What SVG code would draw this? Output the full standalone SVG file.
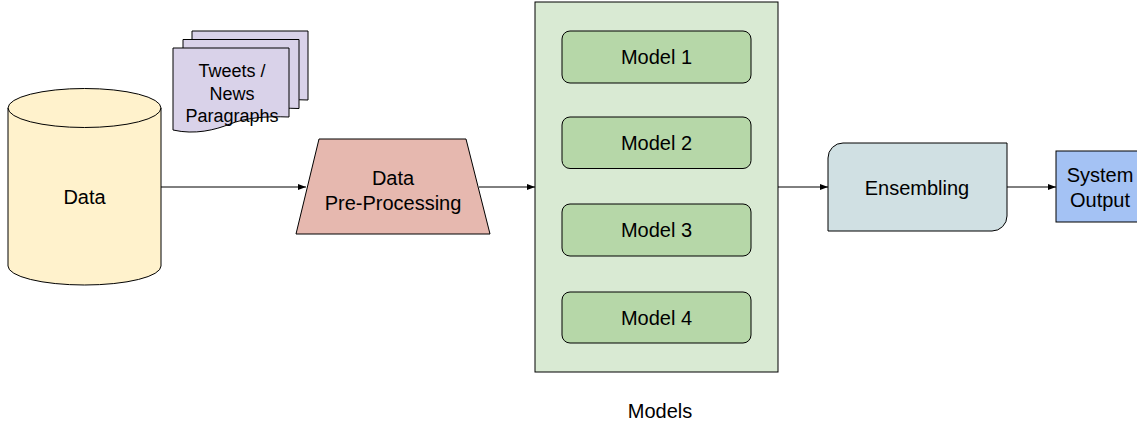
<svg xmlns="http://www.w3.org/2000/svg" width="1137" height="425" viewBox="0 0 1137 425">
<style>
  .t{font-family:"Liberation Sans",Arial,sans-serif;font-size:20px;fill:#000;text-anchor:middle}
  .s{font-family:"Liberation Sans",Arial,sans-serif;font-size:18px;fill:#000;text-anchor:middle}
  .o{stroke:#000;stroke-width:1}
  .c{stroke:#000;stroke-width:1;fill:none}
</style>
<defs>
  <marker id="ah" viewBox="0 0 8 6" refX="8" refY="3" markerWidth="8" markerHeight="6" markerUnits="userSpaceOnUse" orient="auto">
    <path d="M0,0 L8,3 L0,6 Z" fill="#000"/>
  </marker>
  <path id="docshape" d="M0,0 H116 V69 C92,68 72,70 57,76 C42,82 22,87 0,82 Z"/>
</defs>
<rect width="1137" height="425" fill="#fff"/>

<g id="data">
  <path class="o" fill="#fff2cc" d="M8,108 A76.5,19.5 0 0 1 161,108 V266 A76.5,19 0 0 1 8,266 Z"/>
  <path class="o" fill="none" d="M8,108 A76.5,19.5 0 0 0 161,108"/>
  <text class="t" x="84.5" y="204">Data</text>
</g>

<g id="tweets">
  <use href="#docshape" x="192" y="31" class="o" fill="#d9d2e9"/>
  <use href="#docshape" x="183" y="39.5" class="o" fill="#d9d2e9"/>
  <use href="#docshape" x="173" y="48" class="o" fill="#d9d2e9"/>
  <text class="s" x="232" y="77">Tweets /</text>
  <text class="s" x="232" y="100">News</text>
  <text class="s" x="232" y="122">Paragraphs</text>
</g>

<g id="preprocessing">
  <path class="o" fill="#e6b8af" d="M319,139 H466 L490,234 H296 Z"/>
  <text class="t" x="393" y="185">Data</text>
  <text class="t" x="393" y="210">Pre-Processing</text>
</g>

<g id="models">
  <rect class="o" fill="#d9ead3" x="535" y="2" width="243" height="370"/>
  <text class="t" x="660" y="418">Models</text>
</g>
<g id="model1">
  <rect class="o" fill="#b6d7a8" x="562" y="31" width="189" height="52" rx="8"/>
  <text class="t" x="656.5" y="64">Model 1</text>
</g>
<g id="model2">
  <rect class="o" fill="#b6d7a8" x="562" y="117" width="189" height="51.5" rx="8"/>
  <text class="t" x="656.5" y="150">Model 2</text>
</g>
<g id="model3">
  <rect class="o" fill="#b6d7a8" x="562" y="204" width="189" height="52" rx="8"/>
  <text class="t" x="656.5" y="237">Model 3</text>
</g>
<g id="model4">
  <rect class="o" fill="#b6d7a8" x="562" y="292" width="189" height="51" rx="8"/>
  <text class="t" x="656.5" y="325">Model 4</text>
</g>

<g id="ensembling">
  <path class="o" fill="#d0e0e3" d="M843,143 H1007 V216 A15,15 0 0 1 992,231 H828 V158 A15,15 0 0 1 843,143 Z"/>
  <text class="t" x="917" y="195">Ensembling</text>
</g>

<g id="output">
  <rect class="o" fill="#a4c2f4" x="1056" y="151" width="90" height="71"/>
  <text class="t" x="1100" y="182">System</text>
  <text class="t" x="1100" y="207">Output</text>
</g>

<g id="connectors">
  <line class="c" x1="161" y1="187" x2="306" y2="187" marker-end="url(#ah)"/>
  <line class="c" x1="479" y1="187" x2="535" y2="187" marker-end="url(#ah)"/>
  <line class="c" x1="778" y1="187" x2="828" y2="187" marker-end="url(#ah)"/>
  <line class="c" x1="1007" y1="187" x2="1056" y2="187" marker-end="url(#ah)"/>
</g>
</svg>
